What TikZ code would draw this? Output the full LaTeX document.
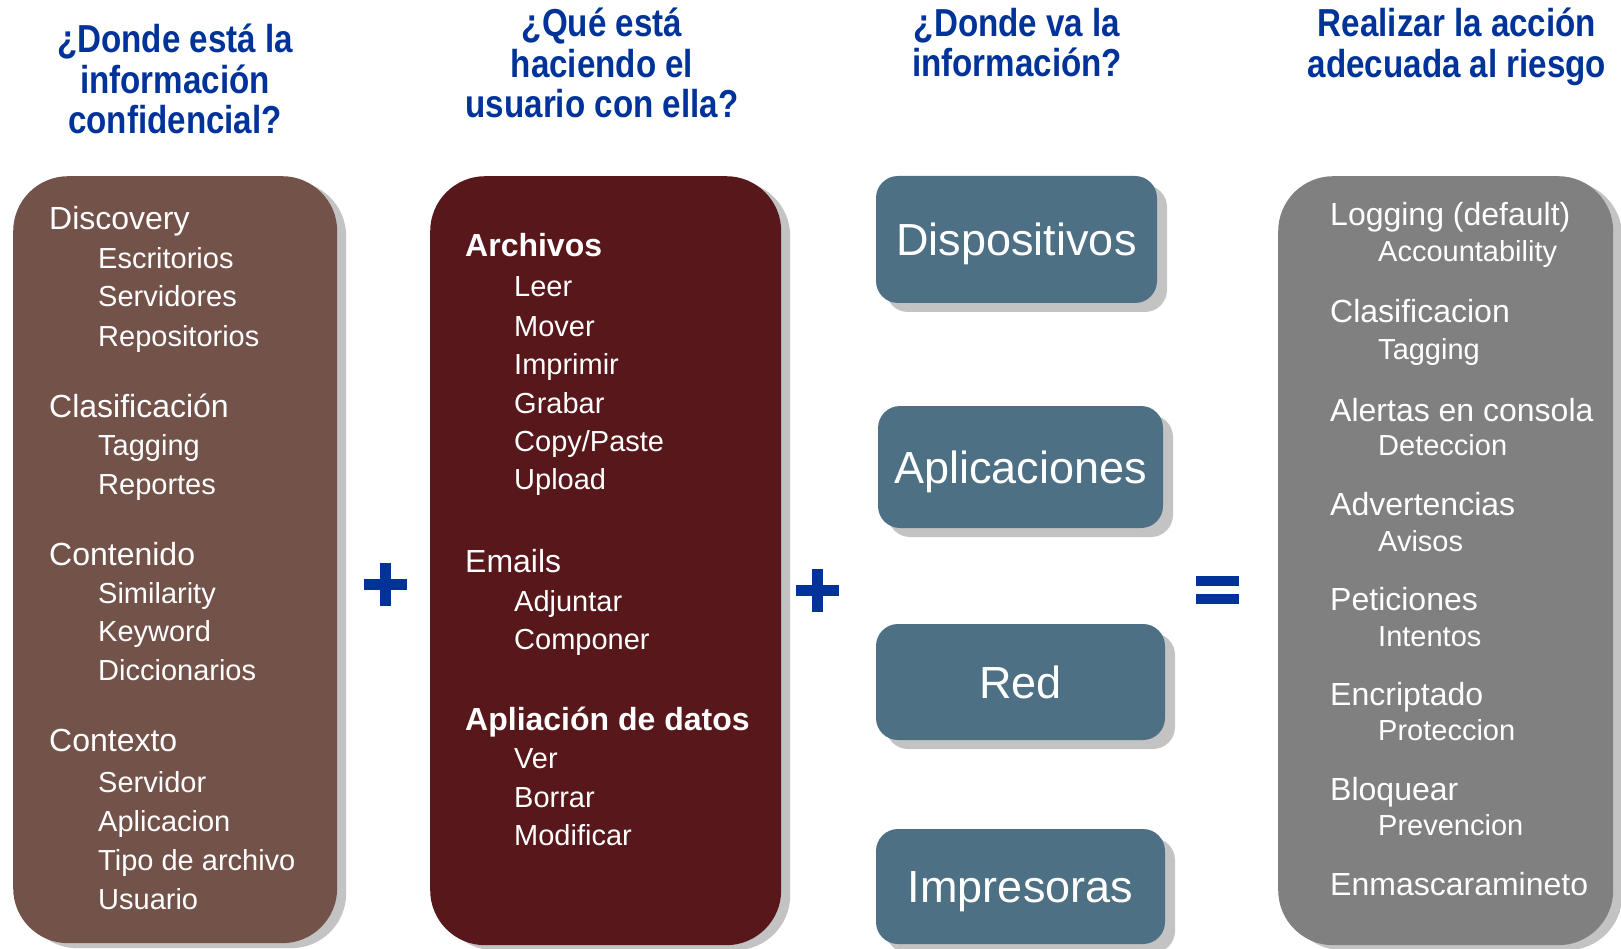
\documentclass[tikz,border=0pt]{standalone}
\usepackage{fontspec}
\setmainfont{Liberation Sans}
\newfontfamily\headfont[FakeStretch=0.85]{Liberation Sans}
\usetikzlibrary{shadows}

\definecolor{brownbox}{RGB}{115,82,74}
\definecolor{winebox}{RGB}{88,23,26}
\definecolor{slatebox}{RGB}{78,112,133}
\definecolor{greybox}{RGB}{128,128,128}
\definecolor{headblue}{RGB}{0,51,153}
\definecolor{shade}{RGB}{195,195,195}

\tikzset{
  column/.style={rectangle, rounded corners=55pt, anchor=north west, inner sep=0pt,
    drop shadow={shadow xshift=9pt, shadow yshift=-5pt, fill=shade, opacity=1}},
  target/.style={rectangle, rounded corners=22pt, inner sep=0pt, fill=slatebox, text=white,
    text height=32pt, text depth=0pt, font=\fontsize{45}{50}\selectfont,
    drop shadow={shadow xshift=10pt, shadow yshift=-9pt, fill=shade, opacity=1}},
  title/.style={anchor=north, align=center, inner sep=0pt, text=headblue,
    font=\headfont\bfseries\fontsize{39}{40.5}\selectfont},
  topic/.style={anchor=base west, inner sep=0pt, text=white, font=\fontsize{32}{36}\selectfont},
  subtopic/.style={anchor=base west, inner sep=0pt, text=white, font=\fontsize{29}{33}\selectfont},
}

\begin{document}
\begin{tikzpicture}[x=1pt,y=-1pt]
%\draw [help lines,black!20!white] (0,0) grid[step=100] (1621,949);
\useasboundingbox (0,0) rectangle (1621,949);

% questions
\node[title] (q-where) at (175,24) {¿Donde está la\\información\\confidencial?};
\node[title] (q-what) at (602,8) {¿Qué está\\haciendo el\\usuario con ella?};
\node[title] (q-dest) at (1017,8) {¿Donde va la\\información?};
\node[title] (q-action) at (1457,8) {Realizar la acción\\adecuada al riesgo};

% columns
\node[column, fill=brownbox, minimum width=324pt, minimum height=767pt] (where) at (13,176) {};
\node[column, fill=winebox, minimum width=351pt, minimum height=769pt] (what) at (430,176) {};
\node[column, fill=greybox, minimum width=335pt, minimum height=769pt] (action) at (1278,176) {};

\node[target, minimum width=281pt, minimum height=127pt] (disp) at (1016.5,239.5) {Dispositivos};
\node[target, minimum width=285pt, minimum height=122pt] (apps) at (1020.5,467) {Aplicaciones};
\node[target, minimum width=289pt, minimum height=116pt] (red) at (1020.5,682) {Red};
\node[target, minimum width=289pt, minimum height=115pt] (prn) at (1020.5,886.5) {Impresoras};

% where
\foreach \y/\t in {230/Discovery,417/Clasificación,565/Contenido,751/Contexto}
	\node[topic] (where-\y) at (49,\y) {\t};
\foreach \y/\t in {269/Escritorios,307/Servidores,346/Repositorios,455/Tagging,494/Reportes,
	603/Similarity,641/Keyword,680/Diccionarios,792/Servidor,831/Aplicacion,870/Tipo de archivo,909/Usuario}
	\node[subtopic] (wsub-\y) at (98,\y) {\t};

% what
\node[topic, font=\bfseries\fontsize{32}{36}\selectfont] (what-files) at (465,257) {Archivos};
\node[topic] (what-mail) at (465,572) {Emails};
\node[topic, font=\bfseries\fontsize{32}{36}\selectfont] (what-data) at (465,730) {Apliación de datos};
\foreach \y/\t in {297/Leer,336/Mover,374/Imprimir,413/Grabar,451/{Copy/Paste},489/Upload,
	611/Adjuntar,649/Componer,768/Ver,807/Borrar,845/Modificar}
	\node[subtopic] (hsub-\y) at (514,\y) {\t};

% action
\foreach \y/\t in {226/Logging (default),323/Clasificacion,421/Alertas en consola,515/Advertencias,
	610/Peticiones,705/Encriptado,800/Bloquear,895/Enmascaramineto}
	\node[topic] (act-\y) at (1330,\y) {\t};
\foreach \y/\t in {262/Accountability,359/Tagging,455/Deteccion,551/Avisos,646/Intentos,740/Proteccion,835/Prevencion}
	\node[subtopic] (asub-\y) at (1378,\y) {\t};

% operators
\fill[headblue] (380,562.5) rectangle (391,605.5);
\fill[headblue] (364,578.5) rectangle (407,589.5);
\fill[headblue] (812,569) rectangle (823,612);
\fill[headblue] (796,584.5) rectangle (839,595.5);
\fill[headblue] (1196,576) rectangle (1239,586);
\fill[headblue] (1196,594) rectangle (1239,604);

\end{tikzpicture}
\end{document}
